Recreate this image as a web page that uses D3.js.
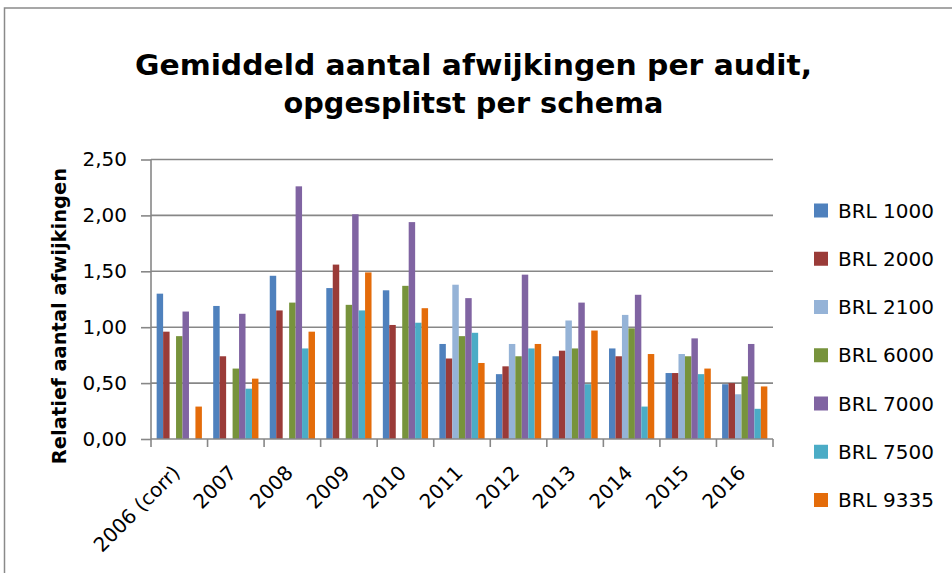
<!DOCTYPE html>
<html>
<head>
<meta charset="utf-8">
<script src="https://cdn.jsdelivr.net/npm/d3@7"></script>
<style>
  html, body { margin: 0; padding: 0; background: #fff; }
  svg { display: block; }
</style>
</head>
<body>
<svg id="chart" width="952" height="573"></svg>
<script>
const categories = ["2006 (corr)", "2007", "2008", "2009", "2010", "2011", "2012", "2013", "2014", "2015", "2016"];
const seriesNames = ["BRL 1000", "BRL 2000", "BRL 2100", "BRL 6000", "BRL 7000", "BRL 7500", "BRL 9335"];
const brl1000 = [1.30, 1.19, 1.46, 1.35, 1.33, 0.85, 0.58, 0.74, 0.81, 0.59, 0.49];
const brl2000 = [0.96, 0.74, 1.15, 1.56, 1.02, 0.72, 0.65, 0.79, 0.74, 0.59, 0.50];
const brl2100 = [null, null, null, null, null, 1.38, 0.85, 1.06, 1.11, 0.76, 0.40];
const brl6000 = [0.92, 0.63, 1.22, 1.20, 1.37, 0.92, 0.74, 0.81, 0.99, 0.74, 0.56];
const brl7000 = [1.14, 1.12, 2.26, 2.01, 1.94, 1.26, 1.47, 1.22, 1.29, 0.90, 0.85];
const brl7500 = [null, 0.45, 0.81, 1.15, 1.04, 0.95, 0.81, 0.49, 0.29, 0.58, 0.27];
const brl9335 = [0.29, 0.54, 0.96, 1.49, 1.17, 0.68, 0.85, 0.97, 0.76, 0.63, 0.47];
const yTicks = [0, 0.5, 1.0, 1.5, 2.0, 2.5];
const titleLines = ["Gemiddeld aantal afwijkingen per audit,", "opgesplitst per schema"];
const yTitle = "Relatief aantal afwijkingen";
const colors = ["#4F81BD", "#9A3B38", "#95B3D7", "#77933C", "#8064A2", "#4BACC6", "#E46C0A"];

const seriesValues = [brl1000, brl2000, brl2100, brl6000, brl7000, brl7500, brl9335];
const FONT = "'DejaVu Sans', sans-serif";
const GRID = "#878787";

const svg = d3.select("#chart");
svg.append("rect").attr("x", 0).attr("y", 0).attr("width", 952).attr("height", 573).attr("fill", "#fff");
// outer chart border
svg.append("rect").attr("x", 4.5).attr("y", 8).attr("width", 1000).attr("height", 700)
  .attr("fill", "none").attr("stroke", "#8a8a8a").attr("stroke-width", 1.5);

const plot = { left: 151, right: 773, top: 159.5, bottom: 439 };

const x0 = d3.scaleBand().domain(categories).range([plot.left, plot.right])
  .paddingInner(0.2).paddingOuter(0.1);
const x1 = d3.scaleBand().domain(seriesNames).range([0, x0.bandwidth()]);
const y = d3.scaleLinear().domain([0, 2.5]).range([plot.bottom, plot.top]);

// gridlines
svg.append("g").selectAll("line").data(yTicks.filter(t => t > 0)).join("line")
  .attr("x1", plot.left).attr("x2", plot.right)
  .attr("y1", d => y(d)).attr("y2", d => y(d))
  .attr("stroke", GRID).attr("stroke-width", 1.6);

// bars
const rows = categories.map((c, i) => ({ cat: c, vals: seriesNames.map((s, j) => ({ s, j, v: seriesValues[j][i] })) }));
svg.append("g").selectAll("g").data(rows).join("g")
  .attr("transform", d => `translate(${x0(d.cat)},0)`)
  .selectAll("rect").data(d => d.vals.filter(v => v.v != null)).join("rect")
  .attr("x", d => x1(d.s)).attr("width", x1.bandwidth())
  .attr("y", d => y(d.v)).attr("height", d => y(0) - y(d.v))
  .attr("fill", d => colors[d.j]);

// y axis
const yAxis = d3.axisLeft(y).tickValues(yTicks).tickSize(10).tickPadding(14)
  .tickFormat(d => d3.format(".2f")(d).replace(".", ","));
const gy = svg.append("g").attr("transform", `translate(${plot.left},0)`).call(yAxis);
gy.select(".domain").attr("stroke", GRID).attr("stroke-width", 1.6).attr("d", `M0,${plot.top}V${plot.bottom}`);
gy.selectAll(".tick line").attr("stroke", GRID).attr("stroke-width", 1.6);
gy.selectAll(".tick text").attr("font-family", FONT).attr("font-size", 20).attr("fill", "#000");

// x axis
const gx = svg.append("g").attr("transform", `translate(0,${plot.bottom})`);
gx.append("line").attr("x1", plot.left).attr("x2", plot.right).attr("y1", 0).attr("y2", 0)
  .attr("stroke", GRID).attr("stroke-width", 1.6);
const step = x0.step();
const boundaries = categories.map(c => x0(c) - x0.paddingInner() * step / 2).concat([plot.right]);
boundaries[0] = plot.left;
gx.selectAll("line.tk").data(boundaries).join("line").attr("class", "tk")
  .attr("x1", d => d).attr("x2", d => d).attr("y1", 0).attr("y2", 8)
  .attr("stroke", GRID).attr("stroke-width", 1.6);
gx.selectAll("text").data(categories).join("text")
  .attr("transform", d => `translate(${x0(d) + x0.bandwidth() / 2 + 2},${35}) rotate(-45)`)
  .attr("text-anchor", "end")
  .attr("font-family", FONT).attr("font-size", 20).attr("fill", "#000")
  .text(d => d);

// title
const titleWidths = [677, 380];
const titleY = [75, 113];
titleLines.forEach((t, i) => {
  const el = svg.append("text").attr("x", 473.5).attr("y", titleY[i])
    .attr("text-anchor", "middle").attr("font-family", FONT).attr("font-weight", "bold")
    .attr("font-size", 28).attr("fill", "#000").text(t);
  el.attr("textLength", titleWidths[i]).attr("lengthAdjust", "spacingAndGlyphs");
});

// y title
svg.append("text").attr("transform", `translate(66,${316}) rotate(-90)`)
  .attr("text-anchor", "middle").attr("font-family", FONT).attr("font-weight", "bold")
  .attr("font-size", 19.5).attr("fill", "#000").text(yTitle);

// legend
const legend = svg.append("g");
const legY = d3.scalePoint().domain(seriesNames).range([210.5, 500]);
const li = legend.selectAll("g").data(seriesNames).join("g")
  .attr("transform", d => `translate(814,${legY(d)})`);
li.append("rect").attr("x", 0).attr("y", -7).attr("width", 14).attr("height", 14)
  .attr("fill", (d, i) => colors[i]);
li.append("text").attr("x", 24).attr("y", 0).attr("dy", "0.36em")
  .attr("font-family", FONT).attr("font-size", 20).attr("fill", "#000").text(d => d);
</script>
</body>
</html>
